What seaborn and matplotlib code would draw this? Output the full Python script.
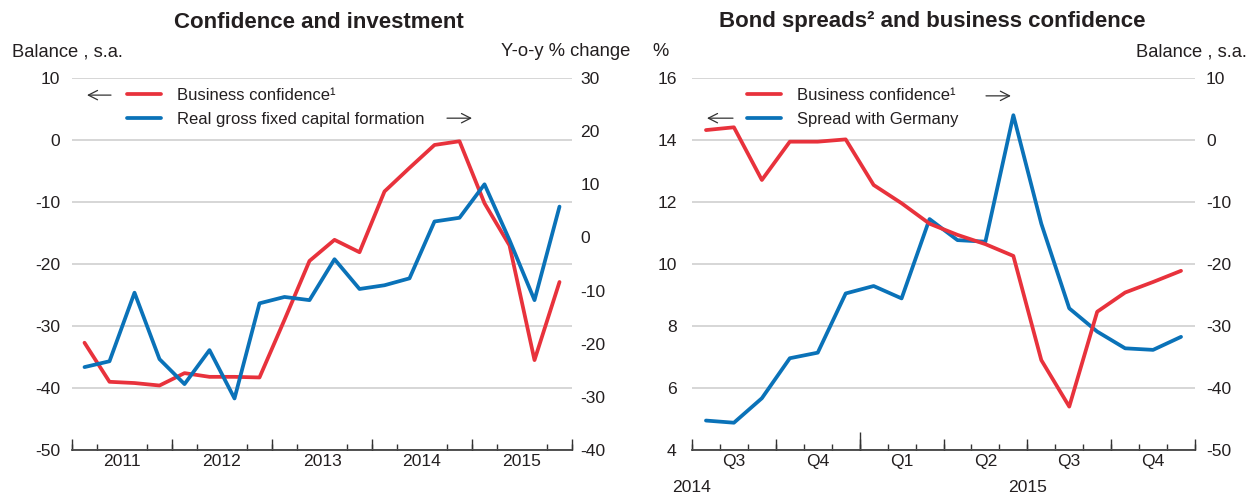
import matplotlib
matplotlib.use('Agg')
import matplotlib.pyplot as plt
import seaborn as sns
import pandas as pd
from matplotlib.lines import Line2D

sns.set_theme(style="white")
plt.rcParams['font.family'] = ['Liberation Sans', 'DejaVu Sans']
plt.rcParams['axes.unicode_minus'] = False

RED = '#e8323c'
BLUE = '#0a72b8'
GRID = '#d6d6d6'
TXT = '#231f20'

# DATA - left panel, quarterly 2011Q1-2015Q4
quarters = [f'{y}Q{q}' for y in range(2011, 2016) for q in range(1, 5)]
conf_q = [-32.7, -39.0, -39.2, -39.6, -37.6, -38.2, -38.2, -38.3, -29.0, -19.5,
          -16.1, -18.1, -8.3, -4.5, -0.8, -0.2, -10.2, -17.0, -35.5, -22.9]
gfcf_q = [-24.4, -23.3, -10.4, -22.9, -27.6, -21.2, -30.3, -12.4, -11.2, -11.8,
          -4.1, -9.7, -9.0, -7.7, 3.0, 3.7, 10.0, -0.5, -11.8, 5.8]
year_labels = ['2011', '2012', '2013', '2014', '2015']

# DATA - right panel, monthly Jul 2014 - Dec 2015
months = ['2014-07', '2014-08', '2014-09', '2014-10', '2014-11', '2014-12',
          '2015-01', '2015-02', '2015-03', '2015-04', '2015-05', '2015-06',
          '2015-07', '2015-08', '2015-09', '2015-10', '2015-11', '2015-12']
conf_m = [1.6, 2.05, -6.45, -0.27, -0.27, 0.1, -7.26, -10.2, -13.5, -15.3,
          -16.8, -18.7, -35.5, -43.0, -27.7, -24.6, -22.9, -21.1]
spread_m = [4.95, 4.88, 5.67, 6.96, 7.14, 9.05, 9.29, 8.89, 11.45, 10.77,
            10.72, 14.8, 11.3, 8.57, 7.82, 7.28, 7.23, 7.65]
quarter_labels = ['Q3', 'Q4', 'Q1', 'Q2', 'Q3', 'Q4']

df_q = pd.DataFrame({'period': quarters, 'conf': conf_q, 'gfcf': gfcf_q})
df_q['pos'] = range(len(df_q))
df_m = pd.DataFrame({'period': months, 'conf': conf_m, 'spread': spread_m})
df_m['pos'] = range(len(df_m))

FS = 12.6      # tick labels
FS_UNIT = 13.2
FS_LEG = 12
LW = 2.7

fig = plt.figure(figsize=(12.59, 4.97), dpi=100)


def style_axes(ax, twin):
    for a in (ax, twin):
        for s in ['left', 'right', 'top', 'bottom']:
            a.spines[s].set_visible(False)
        a.grid(False)
    ax.spines['bottom'].set_visible(True)
    ax.spines['bottom'].set_color('#333333')
    ax.spines['bottom'].set_linewidth(1.2)
    ax.yaxis.grid(True, color=GRID, linewidth=1.4)
    ax.set_axisbelow(True)
    ax.tick_params(axis='y', length=0, labelsize=FS, labelcolor=TXT, pad=8.5)
    twin.tick_params(axis='y', length=0, labelsize=FS, labelcolor=TXT, pad=6)
    ax.tick_params(axis='x', which='both', bottom=True)
    ax.tick_params(axis='x', which='major', length=0, labelsize=FS, labelcolor=TXT, pad=3)
    ax.tick_params(axis='x', which='minor', length=4, width=1, direction='in',
                   color='#333333')
    ax.set_xlabel('')
    ax.set_ylabel('')
    twin.set_ylabel('')


def sec_ticks(ax, positions, length):
    sec = ax.secondary_xaxis('bottom')
    sec.set_xticks(positions)
    sec.set_xticklabels([''] * len(positions))
    sec.tick_params(bottom=True, length=length, width=1, direction='in', color='#333333')
    sec.spines['bottom'].set_visible(False)
    return sec


def add_legend(ax, labels, x0):
    leg = ax.legend(handles=[Line2D([], [], color=RED, lw=LW),
                             Line2D([], [], color=BLUE, lw=LW)],
                    labels=labels, loc='upper left', bbox_to_anchor=(x0, 0.973),
                    frameon=False, fontsize=FS_LEG, handlelength=2.05,
                    handletextpad=0.95, labelspacing=0.52, borderpad=0,
                    borderaxespad=0)
    for t in leg.get_texts():
        t.set_color(TXT)


def arrow(ax, x_from, x_to, y):
    # axis-side pointer next to the legend entry
    ax.annotate('', xy=(x_to, y), xytext=(x_from, y), xycoords='axes fraction',
                arrowprops=dict(arrowstyle='->,head_length=0.55,head_width=0.28',
                                mutation_scale=12, lw=0.9, color='#333333',
                                shrinkA=0, shrinkB=0))


# ---- Left panel: Confidence and investment
ax1 = fig.add_axes([72 / 1259, 47 / 497, 500 / 1259, 372 / 497])
sns.lineplot(data=df_q, x='pos', y='conf', ax=ax1, color=RED, linewidth=LW)
ax1b = ax1.twinx()
sns.lineplot(data=df_q, x='pos', y='gfcf', ax=ax1b, color=BLUE, linewidth=LW)
ax1.set_xlim(-0.5, 19.5)
ax1.set_ylim(-50, 10)
ax1b.set_ylim(-40, 30)
ax1.set_yticks(range(-50, 11, 10))
ax1b.set_yticks(range(-40, 31, 10))
style_axes(ax1, ax1b)
ax1.set_xticks([1.5 + 4 * i for i in range(5)])
ax1.set_xticklabels(year_labels)
ax1.set_xticks([i - 0.5 for i in range(21)], minor=True)
sec_ticks(ax1, [-0.5 + 4 * i for i in range(6)], 8)

add_legend(ax1b, ['Business confidence\u00b9', 'Real gross fixed capital formation'], 0.11)
arrow(ax1b, 0.078, 0.030, 0.954)
arrow(ax1b, 0.750, 0.800, 0.892)

# ---- Right panel: Bond spreads and business confidence
ax2 = fig.add_axes([692 / 1259, 47 / 497, 503 / 1259, 372 / 497])
sns.lineplot(data=df_m, x='pos', y='spread', ax=ax2, color=BLUE, linewidth=LW)
ax2b = ax2.twinx()
sns.lineplot(data=df_m, x='pos', y='conf', ax=ax2b, color=RED, linewidth=LW)
ax2.set_xlim(-0.5, 17.5)
ax2.set_ylim(4, 16)
ax2b.set_ylim(-50, 10)
ax2.set_yticks(range(4, 17, 2))
ax2b.set_yticks(range(-50, 11, 10))
style_axes(ax2, ax2b)
ax2.tick_params(axis='y', pad=11)
ax2b.tick_params(axis='y', pad=8)
ax2.set_xticks([1 + 3 * i for i in range(6)])
ax2.set_xticklabels(quarter_labels)
ax2.set_xticks([i - 0.5 for i in range(19)], minor=True)
sec_ticks(ax2, [-0.5 + 3 * i for i in range(7)], 8)
sec_ticks(ax2, [5.5], 13)
ax2.text(-0.04, -0.1, '2014', transform=ax2.transAxes, ha='left', va='center',
         fontsize=FS, color=TXT)
ax2.text(11.5, -0.1, '2015', transform=ax2.get_xaxis_transform(), ha='center',
         va='center', fontsize=FS, color=TXT)

add_legend(ax2b, ['Business confidence\u00b9', 'Spread with Germany'], 0.109)
arrow(ax2b, 0.5845, 0.634, 0.952)
arrow(ax2b, 0.0815, 0.0298, 0.892)

# ---- Titles and unit labels
fig.text(319 / 1259, 1 - 22 / 497, 'Confidence and investment', ha='center',
         va='center', fontsize=16, weight='bold', color=TXT)
fig.text(932 / 1259, 1 - 22 / 497, 'Bond spreads\u00b2 and business confidence',
         ha='center', va='center', fontsize=16, weight='bold', color=TXT)
fig.text(12 / 1259, 1 - 52 / 497, 'Balance , s.a.', ha='left', va='center',
         fontsize=FS_UNIT, color=TXT)
fig.text(630 / 1259, 1 - 52 / 497, 'Y-o-y % change', ha='right', va='center',
         fontsize=FS_UNIT, color=TXT)
fig.text(652 / 1259, 1 - 52 / 497, '%', ha='left', va='center',
         fontsize=FS_UNIT, color=TXT)
fig.text(1247 / 1259, 1 - 52 / 497, 'Balance , s.a.', ha='right', va='center',
         fontsize=FS_UNIT, color=TXT)

fig.savefig('out.png', dpi=100)
